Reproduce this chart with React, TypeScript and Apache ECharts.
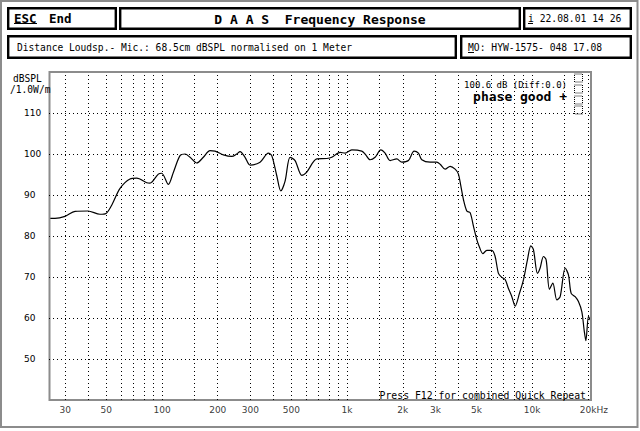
import React, { useEffect, useRef } from "react";
import * as echarts from "echarts";

// Frequency response curve (Hz, dB SPL)
const freq = [
  24.5, 26.4, 29.9, 33.9, 39.8, 46.2, 49.8, 53.7, 59.3, 67.1, 73.0, 82.7, 86.1, 95.5, 99.6,
  108.2, 115.1, 125.1, 133.1, 141.7, 154.0, 167.2, 181.7, 193.4, 214.5, 238.1, 253.3, 264.0,
  280.9, 299.0, 338.6, 375.5, 391.7, 416.9, 438.2, 462.3, 491.8, 523.4, 569.1, 605.5, 685.9,
  776.8, 826.6, 916.5, 975.4, 1060, 1201, 1251, 1331, 1417, 1521, 1605, 1708, 1856, 1975,
  2145, 2302, 2429, 2534, 2810, 3054, 3183, 3387, 3605, 3836, 3997, 4118, 4253, 4436, 4623,
  4816, 5024, 5189, 5414, 5690, 6056, 6310, 6574, 6860, 7146, 7446, 7768, 8093, 8540, 8974,
  9432, 9840, 10163, 10681, 11046, 11510, 11904, 12403, 12939, 13601, 14171, 15082, 15714,
  16251, 17078, 17793, 18563, 19103, 19513, 20154, 20584,
];
const spl = [
  84.3, 84.3, 84.8, 86.0, 86.1, 85.3, 85.5, 87.7, 91.6, 93.9, 94.1, 93.0, 92.9, 95.1, 95.3,
  92.6, 95.5, 99.6, 100.0, 99.2, 97.8, 99.2, 100.8, 100.7, 99.8, 99.4, 100.0, 100.6,
  99.2, 97.3, 98.0, 100.2, 99.6, 94.7, 91.0, 93.4, 99.2, 98.4, 94.8, 95.6, 98.8,
  98.9, 99.2, 100.4, 100.2, 101.0, 100.7, 100.0, 98.6, 99.2, 101.0, 100.2, 98.4, 98.8, 98.0,
  98.4, 100.7, 100.2, 98.6, 98.0, 98.0, 97.5, 96.3, 97.0, 96.3, 95.1, 92.2, 88.9, 86.1, 85.7,
  82.4, 79.1, 77.3, 75.7, 76.5, 76.5, 75.0, 70.9, 69.9, 69.4, 67.2, 65.2, 62.9, 66.0, 69.3,
  74.2, 77.6, 76.7, 70.9, 72.2, 75.0, 74.2, 67.0, 68.5, 64.4, 65.2, 72.2, 70.5,
  66.0, 65.2, 64.0, 61.5, 57.0, 54.5, 60.4, 59.5,
];

// Grid lines and tick labels
const xGridLines = [
  30, 40, 50, 60, 70, 80, 90, 100, 150, 200, 300, 400, 500, 600, 700, 800, 900,
  1000, 1500, 2000, 3000, 4000, 5000, 6000, 7000, 8000, 9000, 10000, 15000, 20000,
];
const xTickValues = [30, 50, 100, 200, 300, 500, 1000, 2000, 3000, 5000, 10000, 20000];
const xTickLabels = ["30", "50", "100", "200", "300", "500", "1k", "2k", "3k", "5k", "10k", "20kHz"];
const yGridLines = [50, 60, 70, 80, 90, 100, 110];
const xRange = [24.5, 20800];
const yRange = [40, 120];

const MONO = "DejaVu Sans Mono";

export default function App() {
  const ref = useRef<HTMLDivElement>(null);

  useEffect(() => {
    document.body.style.margin = "0";
    const chart = echarts.init(ref.current!, null, { renderer: "svg" });
    const dotted = { color: "#000", width: 1, type: [1, 3] as any };

    const txt = (x: number, y: number, text: string, size: number, opts: any = {}) => ({
      type: "text",
      x,
      y,
      silent: true,
      style: {
        text,
        fill: "#000",
        font: `${opts.bold ? "bold " : ""}${size}px "${opts.family || MONO}"`,
        textAlign: opts.align || "left",
        textVerticalAlign: "middle",
      },
      z: 10,
    });
    const box = (x: number, y: number, w: number, h: number) => ({
      type: "rect",
      shape: { x, y, width: w, height: h },
      style: { fill: "#fff", stroke: "#000", lineWidth: 2.4 },
      silent: true,
      z: 5,
    });
    const uline = (x1: number, x2: number, y: number) => ({
      type: "line",
      shape: { x1, y1: y, x2, y2: y },
      style: { stroke: "#000", lineWidth: 1 },
      silent: true,
      z: 10,
    });

    chart.setOption({
      animation: false,
      backgroundColor: "#fff",
      grid: { left: 49, right: 49, top: 72, bottom: 31, show: false },
      xAxis: {
        type: "log",
        logBase: 10,
        min: xRange[0],
        max: xRange[1],
        axisLine: { show: false },
        axisTick: { show: false },
        axisLabel: { show: false },
        splitLine: { show: false },
      },
      yAxis: {
        type: "value",
        min: yRange[0],
        max: yRange[1],
        interval: 10,
        axisLine: { show: false },
        axisTick: { show: false },
        splitLine: { show: false },
        axisLabel: {
          showMinLabel: false,
          showMaxLabel: false,
          color: "#000",
          fontSize: 9,
          fontFamily: "DejaVu Sans",
          align: "left",
          margin: 25,
        },
      },
      series: [
        {
          type: "line",
          data: freq.map((f, i) => [f, spl[i]]),
          symbol: "none",
          smooth: 0.3,
          clip: true,
          lineStyle: { color: "#000", width: 1.2 },
          z: 3,
          markLine: {
            silent: true,
            symbol: ["none", "none"],
            label: { show: false },
            lineStyle: dotted,
            data: [
              ...xGridLines.map((v) => ({ xAxis: v })),
              ...yGridLines.map((v) => ({ yAxis: v })),
            ],
          },
        },
        {
          type: "scatter",
          symbolSize: 0,
          clip: false,
          silent: true,
          data: xTickValues.map((v, i) =>
            i === xTickValues.length - 1
              ? { value: [v, yRange[0]], label: { align: "left", offset: [-8, 0] } }
              : { value: [v, yRange[0]] }
          ),
          label: {
            show: true,
            position: "bottom",
            distance: 5,
            color: "#000",
            fontSize: 9,
            fontFamily: "DejaVu Sans",
            formatter: (p: any) => xTickLabels[p.dataIndex],
          },
        },
      ],
      graphic: [
        // outer dithered frame
        {
          type: "rect",
          shape: { x: 1, y: 1, width: 636.5, height: 426 },
          style: { fill: "none", stroke: "#8c8c8c", lineWidth: 2 },
          silent: true,
        },
        // plot frame
        {
          type: "rect",
          shape: { x: 49.5, y: 72, width: 541.5, height: 328 },
          style: { fill: "none", stroke: "#8c8c8c", lineWidth: 2 },
          silent: true,
          z: 4,
        },
        box(8.2, 8.2, 107.6, 20.6),
        box(120.2, 8.2, 399.6, 20.6),
        box(524.2, 8.2, 106.6, 20.6),
        box(8.2, 36.2, 447.6, 21.6),
        box(461.2, 36.2, 169.6, 21.6),
        txt(14, 18, "ESC", 12.5, { bold: true }),
        uline(14, 37, 23.5),
        txt(49, 18, "End", 12.5, { bold: true }),
        txt(320, 19, "D A A S  Frequency Response", 13, { bold: true, align: "center" }),
        txt(528, 18, "i 22.08.01 14 26", 9.7),
        uline(528, 533, 23.5),
        txt(17, 47, "Distance Loudsp.- Mic.: 68.5cm dBSPL normalised on 1 Meter", 9.6),
        txt(468, 47, "MO: HYW-1575- 048 17.08", 9.7),
        uline(468, 474, 52.5),
        txt(13, 78, "dBSPL", 9.6),
        txt(10, 89, "/1.0W/m", 9.6),
        txt(567, 85, "100.6 dB (Diff:0.0)", 9, { align: "right" }),
        txt(567, 96, "phase good +", 13, { bold: true, align: "right" }),
        txt(586, 395, "Press F12 for combined Quick Repeat", 9.8, { align: "right" }),
        ...[74, 85, 96, 106].map((y) => ({
          type: "rect",
          shape: { x: 574.5, y, width: 8, height: 8 },
          style: { fill: "none", stroke: "#000", lineWidth: 1, lineDash: [1, 1] },
          silent: true,
          z: 10,
        })),
      ],
    });
    return () => chart.dispose();
  }, []);

  return <div ref={ref} style={{ width: 640, height: 431 }} />;
}
